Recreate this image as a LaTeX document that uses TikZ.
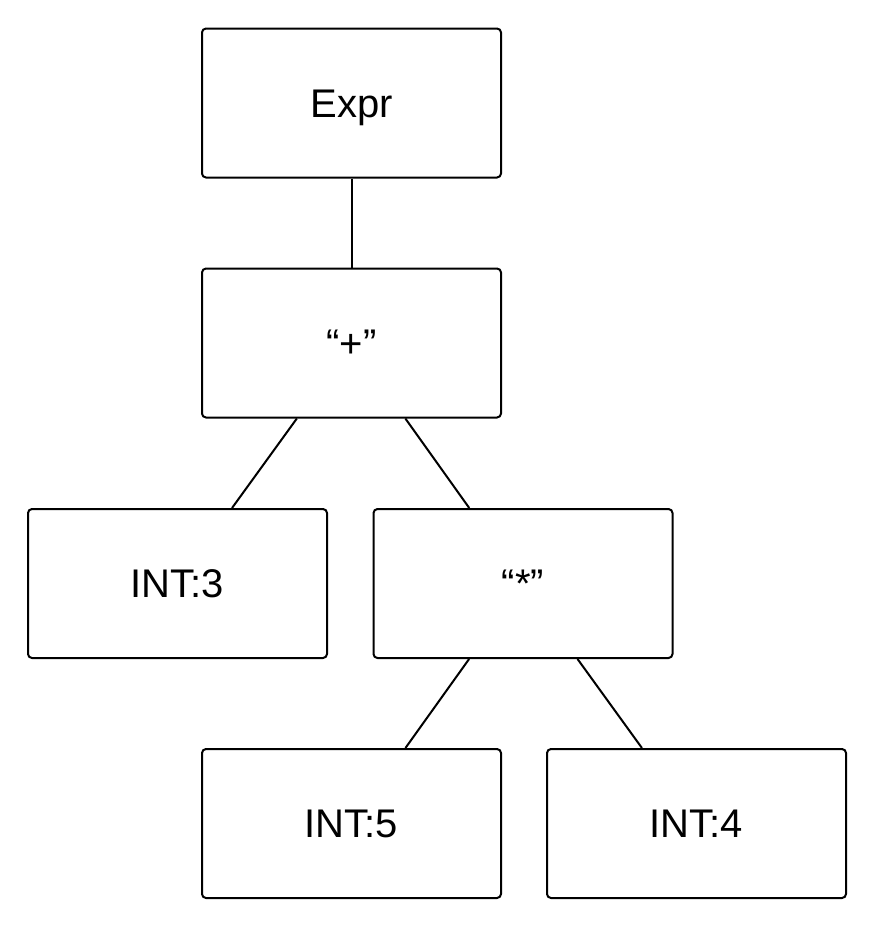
\documentclass[tikz,border=0pt]{standalone}
\usepackage{fontspec}
\setmainfont{Liberation Sans}
\begin{document}
\begin{tikzpicture}[x=1pt,y=-1pt,
  treebox/.style={draw=black, line width=2pt, rounded corners=4pt,
    minimum width=299pt, minimum height=149pt, inner sep=0pt,
    font=\fontsize{40pt}{48pt}\selectfont, text height=28.7pt, text depth=0pt},
  edge/.style={draw=black, line width=2pt}]
\useasboundingbox (0,0) rectangle (875,927);
\node[treebox] (expr) at (351.5,103) {Expr};
\node[treebox] (plus) at (351.5,343) {“+”};
\node[treebox] (int3) at (177.5,583.5) {INT:3};
\node[treebox] (star) at (523,583.5) {“*”};
\node[treebox] (int5) at (351.5,823.5) {INT:5};
\node[treebox] (int4) at (696.5,823.5) {INT:4};
\draw[edge] (expr) -- (plus);
\draw[edge] (plus) -- (int3);
\draw[edge] (plus) -- (star);
\draw[edge] (star) -- (int5);
\draw[edge] (star) -- (int4);
\end{tikzpicture}
\end{document}
